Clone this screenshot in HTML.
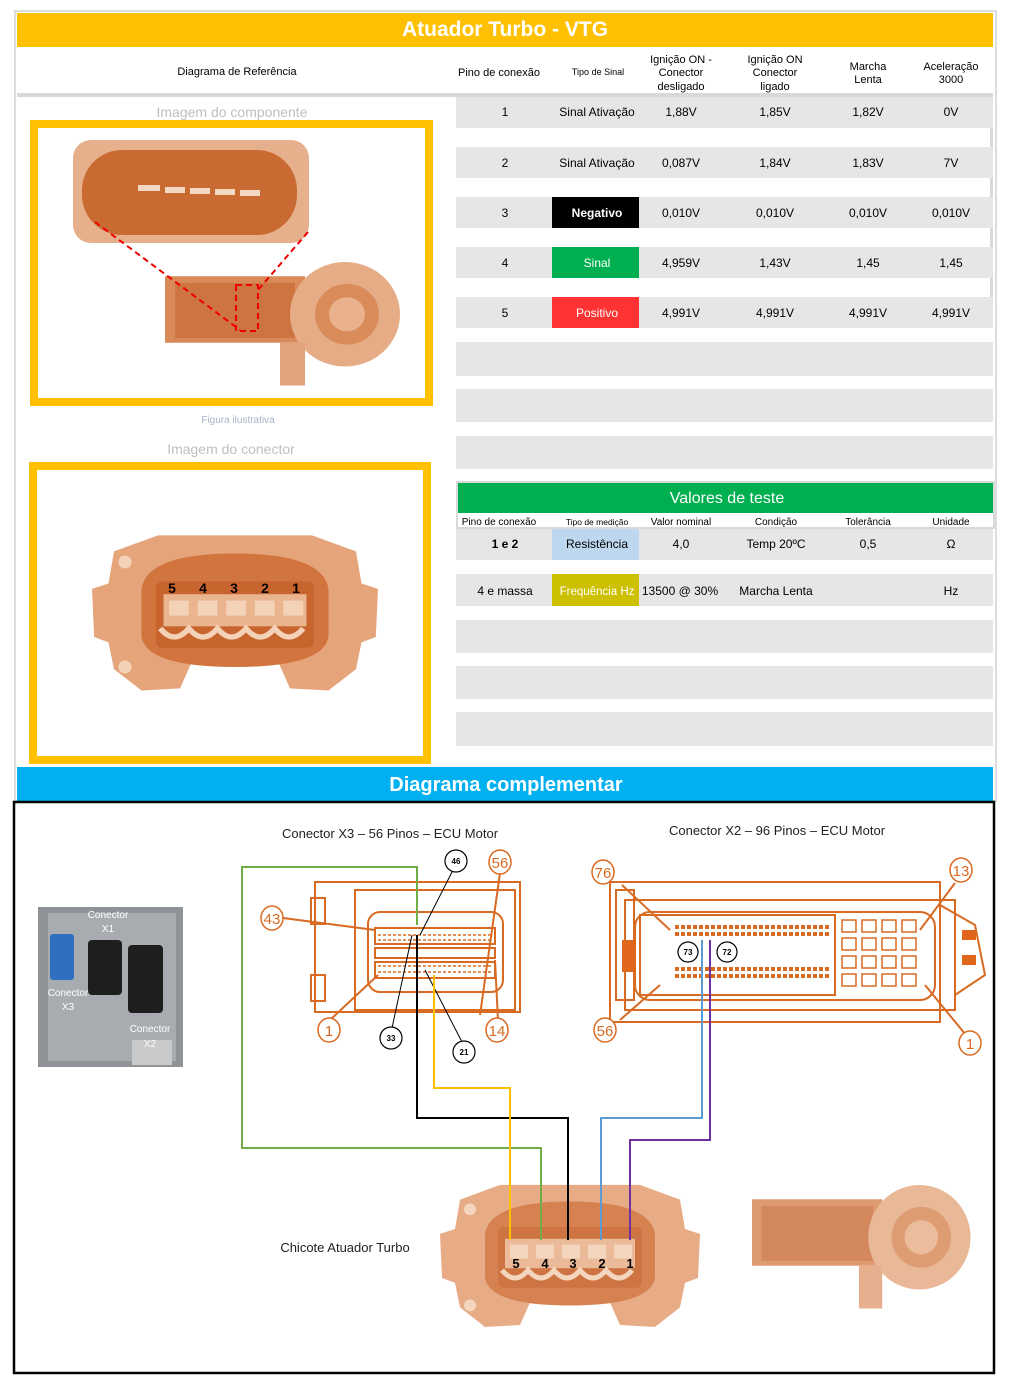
<!DOCTYPE html>
<html><head><meta charset="utf-8"><style>
html,body{margin:0;padding:0;background:#fff;}
svg{display:block;font-family:"Liberation Sans",sans-serif;}
</style></head><body>
<svg width="1009" height="1385" viewBox="0 0 1009 1385" xmlns="http://www.w3.org/2000/svg">
<defs>
<g id="conn">
 <path d="M20 20 L60 5 L200 5 L240 20 L245 50 L260 55 L258 100 L245 105 L240 130 L215 150 L180 148 L170 125 L90 125 L80 148 L45 150 L20 130 L15 105 L2 100 L0 55 L15 50 Z" fill="#E5A47A"/>
 <path d="M45 55 Q50 22 130 22 Q210 22 215 55 L215 100 Q210 128 130 128 Q50 128 45 100 Z" fill="#D2743E"/>
 <rect x="58" y="48" width="144" height="62" rx="6" fill="#C8652E"/>
 <rect x="65" y="60" width="130" height="30" fill="#E9B48E"/>
 <g fill="#F3D2B8"><rect x="70" y="66" width="18" height="14"/><rect x="96" y="66" width="18" height="14"/><rect x="122" y="66" width="18" height="14"/><rect x="148" y="66" width="18" height="14"/><rect x="174" y="66" width="18" height="14"/></g>
 <path d="M62 92 Q75 108 88 92 Q101 108 114 92 Q127 108 140 92 Q153 108 166 92 Q179 108 192 92" stroke="#F3D2B8" stroke-width="5" fill="none"/>
 <circle cx="30" cy="30" r="6" fill="#F3D2B8"/><circle cx="30" cy="128" r="6" fill="#F3D2B8"/>
</g>
<g id="turbo">
 <rect x="0" y="15" width="140" height="70" fill="#D98A59"/>
 <rect x="10" y="22" width="120" height="58" fill="#CD7441"/>
 <circle cx="180" cy="55" r="55" fill="#E6AC86"/>
 <circle cx="182" cy="55" r="32" fill="#D98B5A"/>
 <circle cx="182" cy="55" r="18" fill="#E9B28D"/>
 <rect x="115" y="85" width="25" height="45" fill="#E2A37C"/>
</g>
</defs>

<rect x="15" y="11" width="981" height="790" fill="#fff" stroke="#ddd" stroke-width="2"/>
<rect x="17" y="13" width="976" height="34" fill="#FFC000"/>
<text x="505" y="36" text-anchor="middle" font-size="21" font-weight="bold" fill="#fff">Atuador Turbo - VTG</text>
<rect x="17" y="93" width="976" height="4" fill="#d9d9d9"/>
<g font-size="11" fill="#000" text-anchor="middle">
 <text x="237" y="75">Diagrama de Referência</text>
 <text x="499" y="76">Pino de conexão</text>
 <text x="598" y="75" font-size="9">Tipo de Sinal</text>
 <text x="681" y="63">Ignição ON -</text><text x="681" y="76">Conector</text><text x="681" y="90">desligado</text>
 <text x="775" y="63">Ignição ON</text><text x="775" y="76">Conector</text><text x="775" y="90">ligado</text>
 <text x="868" y="70">Marcha</text><text x="868" y="83">Lenta</text>
 <text x="951" y="70">Aceleração</text><text x="951" y="83">3000</text>
</g>

<text x="232" y="117" text-anchor="middle" font-size="14" fill="#bfbfbf">Imagem do componente</text>
<rect x="34" y="124" width="395" height="278" fill="#fff" stroke="#FFC000" stroke-width="8"/>
<rect x="73" y="140" width="236" height="103" rx="18" fill="#E7B08C"/>
<rect x="82" y="150" width="215" height="85" rx="40" fill="#C96A33"/>
<g fill="#F3D8C4"><rect x="138" y="185" width="22" height="6"/><rect x="165" y="187" width="20" height="6"/><rect x="190" y="188" width="20" height="6"/><rect x="215" y="189" width="20" height="6"/><rect x="240" y="190" width="20" height="6"/></g>
<g transform="translate(165,262) scale(1.0,0.95)"><use href="#turbo"/></g>
<rect x="236" y="285" width="22" height="46" fill="none" stroke="#e00" stroke-width="2" stroke-dasharray="6,4"/>
<line x1="95" y1="222" x2="240" y2="330" stroke="#e00" stroke-width="2" stroke-dasharray="6,4"/>
<line x1="308" y1="232" x2="258" y2="290" stroke="#e00" stroke-width="2" stroke-dasharray="6,4"/>
<text x="238" y="423" text-anchor="middle" font-size="10" fill="#a6b4c8">Figura ilustrativa</text>
<text x="231" y="454" text-anchor="middle" font-size="14" fill="#bfbfbf">Imagem do conector</text>
<rect x="33" y="466" width="394" height="294" fill="#fff" stroke="#FFC000" stroke-width="8"/>
<g transform="translate(92,530) scale(1.1,1.07)"><use href="#conn"/></g>
<g font-size="14" font-weight="bold" fill="#000" text-anchor="middle">
 <text x="172" y="593">5</text><text x="203" y="593">4</text><text x="234" y="593">3</text><text x="265" y="593">2</text><text x="296" y="593">1</text>
</g>

<g fill="#e7e6e6">
 <rect x="456" y="97" width="537" height="31"/>
 <rect x="456" y="147" width="537" height="31"/>
 <rect x="456" y="197" width="537" height="31"/>
 <rect x="456" y="247" width="537" height="31"/>
 <rect x="456" y="297" width="537" height="31"/>
 <rect x="456" y="342" width="537" height="34"/>
 <rect x="456" y="389" width="537" height="33"/>
 <rect x="456" y="436" width="537" height="33"/>
</g>
<g fill="#d9d9d9"><rect x="990" y="128" width="3" height="19"/><rect x="990" y="178" width="3" height="19"/><rect x="990" y="228" width="3" height="19"/><rect x="990" y="278" width="3" height="19"/></g>
<rect x="552" y="197" width="87" height="31" fill="#000"/>
<rect x="552" y="247" width="87" height="31" fill="#00B050"/>
<rect x="552" y="297" width="87" height="31" fill="#FF3333"/>
<g font-size="12" fill="#000" text-anchor="middle">
 <text x="505" y="116">1</text><text x="597" y="116">Sinal Ativação</text><text x="681" y="116">1,88V</text><text x="775" y="116">1,85V</text><text x="868" y="116">1,82V</text><text x="951" y="116">0V</text>
 <text x="505" y="167">2</text><text x="597" y="167">Sinal Ativação</text><text x="681" y="167">0,087V</text><text x="775" y="167">1,84V</text><text x="868" y="167">1,83V</text><text x="951" y="167">7V</text>
 <text x="505" y="217">3</text><text x="597" y="217" fill="#fff" font-weight="bold">Negativo</text><text x="681" y="217">0,010V</text><text x="775" y="217">0,010V</text><text x="868" y="217">0,010V</text><text x="951" y="217">0,010V</text>
 <text x="505" y="267">4</text><text x="597" y="267" fill="#fff">Sinal</text><text x="681" y="267">4,959V</text><text x="775" y="267">1,43V</text><text x="868" y="267">1,45</text><text x="951" y="267">1,45</text>
 <text x="505" y="317">5</text><text x="597" y="317" fill="#fff">Positivo</text><text x="681" y="317">4,991V</text><text x="775" y="317">4,991V</text><text x="868" y="317">4,991V</text><text x="951" y="317">4,991V</text>
</g>

<rect x="456" y="481" width="539" height="48" fill="#d9d9d9"/>
<rect x="458" y="483" width="535" height="30" fill="#00B050"/>
<rect x="458" y="513" width="535" height="14" fill="#fff"/>
<text x="727" y="503" text-anchor="middle" font-size="16" fill="#fff">Valores de teste</text>
<g font-size="10" fill="#000" text-anchor="middle">
 <text x="499" y="525">Pino de conexão</text><text x="597" y="525" font-size="8.5">Tipo de medição</text><text x="681" y="525">Valor nominal</text><text x="776" y="525">Condição</text><text x="868" y="525">Tolerância</text><text x="951" y="525">Unidade</text>
</g>
<g fill="#e7e6e6">
 <rect x="456" y="529" width="537" height="31"/>
 <rect x="456" y="574" width="537" height="32"/>
 <rect x="456" y="620" width="537" height="33"/>
 <rect x="456" y="666" width="537" height="33"/>
 <rect x="456" y="712" width="537" height="34"/>
</g>
<rect x="552" y="529" width="87" height="31" fill="#BDD7EE"/>
<rect x="552" y="574" width="87" height="32" fill="#CCC000"/>
<g font-size="12" fill="#000" text-anchor="middle">
 <text x="505" y="548" font-weight="bold">1 e 2</text><text x="597" y="548">Resistência</text><text x="681" y="548">4,0</text><text x="776" y="548">Temp 20ºC</text><text x="868" y="548">0,5</text><text x="951" y="548">Ω</text>
 <text x="505" y="595">4 e massa</text><text x="597" y="595" fill="#fff" font-size="11.5">Frequência Hz</text><text x="680" y="595">13500 @ 30%</text><text x="776" y="595">Marcha Lenta</text><text x="951" y="595">Hz</text>
</g>

<rect x="17" y="767" width="976" height="34" fill="#00B0F0"/>
<text x="506" y="791" text-anchor="middle" font-size="20" font-weight="bold" fill="#fff">Diagrama complementar</text>

<rect x="14" y="802" width="980" height="571" fill="#fff" stroke="#000" stroke-width="2.5"/>

<rect x="38" y="907" width="145" height="160" fill="#8f9398"/>
<rect x="48" y="913" width="128" height="148" fill="#a8acb0"/>
<rect x="50" y="934" width="24" height="46" rx="3" fill="#2f6fc0"/>
<rect x="88" y="940" width="34" height="55" rx="4" fill="#1e1e1e"/>
<rect x="128" y="945" width="35" height="68" rx="4" fill="#1e1e1e"/>
<rect x="132" y="1040" width="40" height="25" fill="#c8c9cb"/>
<g font-size="10" fill="#fff" text-anchor="middle">
 <text x="108" y="918">Conector</text><text x="108" y="932">X1</text>
 <text x="68" y="996">Conector</text><text x="68" y="1010">X3</text>
 <text x="150" y="1032">Conector</text><text x="150" y="1047">X2</text>
</g>

<text x="390" y="838" text-anchor="middle" font-size="13" fill="#222">Conector X3 – 56 Pinos – ECU Motor</text>
<text x="777" y="835" text-anchor="middle" font-size="13" fill="#222">Conector X2 – 96 Pinos – ECU Motor</text>

<g stroke="#D86A22" stroke-width="2" fill="none">
 <rect x="315" y="882" width="205" height="130"/>
 <rect x="355" y="890" width="160" height="120"/>
 <rect x="368" y="912" width="135" height="80" rx="12"/>
 <rect x="375" y="928" width="120" height="16"/>
 <rect x="375" y="948" width="120" height="10"/>
 <rect x="375" y="962" width="120" height="16"/>
 <rect x="311" y="898" width="14" height="26"/>
 <rect x="311" y="975" width="14" height="26"/>
 <line x1="283" y1="918" x2="375" y2="930"/>
 <line x1="330" y1="1020" x2="378" y2="975"/>
 <line x1="500" y1="873" x2="480" y2="1015"/>
 <line x1="498" y1="1020" x2="495" y2="960"/>
</g>
<g stroke="#D86A22" stroke-width="1.5" fill="none">
 <path d="M378 935 h115 M378 940 h115 M378 966 h115 M378 972 h115" stroke-dasharray="3,2"/>
</g>
<g stroke="#D86A22" stroke-width="1.5" fill="#fff">
 <ellipse cx="272" cy="918" rx="11" ry="12"/><ellipse cx="500" cy="862" rx="11" ry="12"/><ellipse cx="329" cy="1030" rx="11" ry="12"/><ellipse cx="497" cy="1030" rx="11" ry="12"/>
</g>
<g font-size="15" fill="#D86A22" text-anchor="middle"><text x="272" y="924">43</text><text x="500" y="868">56</text><text x="329" y="1036">1</text><text x="497" y="1036">14</text></g>
<g stroke="#000" stroke-width="1" fill="none">
 <line x1="452" y1="872" x2="420" y2="935"/><line x1="392" y1="1028" x2="412" y2="935"/><line x1="462" y1="1042" x2="425" y2="970"/>
</g>
<g stroke="#000" stroke-width="1.2" fill="#fff"><circle cx="456" cy="861" r="11"/><circle cx="391" cy="1038" r="11"/><circle cx="464" cy="1052" r="11"/></g>
<g font-size="8" fill="#000" text-anchor="middle" font-weight="bold"><text x="456" y="864">46</text><text x="391" y="1041">33</text><text x="464" y="1055">21</text></g>

<g stroke="#D86A22" stroke-width="2" fill="none">
 <rect x="610" y="882" width="330" height="140"/>
 <rect x="625" y="900" width="330" height="110"/>
 <rect x="635" y="912" width="300" height="88" rx="15"/>
 <rect x="640" y="915" width="195" height="80"/>
 <path d="M940 905 L975 925 L985 975 L955 995"/>
 <rect x="616" y="890" width="18" height="110"/>
 <line x1="622" y1="885" x2="670" y2="930"/><line x1="955" y1="883" x2="920" y2="930"/>
 <line x1="620" y1="1020" x2="660" y2="985"/><line x1="970" y1="1040" x2="925" y2="985"/>
</g>
<rect x="622" y="940" width="14" height="32" fill="#E0661B"/>
<rect x="962" y="930" width="14" height="10" fill="#E0661B"/><rect x="962" y="955" width="14" height="10" fill="#E0661B"/>
<g stroke="#D86A22" stroke-width="1.5" fill="none">
 <path d="M675 927 h155 M675 934 h155 M675 969 h155 M675 976 h155" stroke-dasharray="4,2" stroke-width="4"/>
 <rect x="842" y="920" width="14" height="12"/><rect x="862" y="920" width="14" height="12"/><rect x="882" y="920" width="14" height="12"/><rect x="902" y="920" width="14" height="12"/>
 <rect x="842" y="938" width="14" height="12"/><rect x="862" y="938" width="14" height="12"/><rect x="882" y="938" width="14" height="12"/><rect x="902" y="938" width="14" height="12"/>
 <rect x="842" y="956" width="14" height="12"/><rect x="862" y="956" width="14" height="12"/><rect x="882" y="956" width="14" height="12"/><rect x="902" y="956" width="14" height="12"/>
 <rect x="842" y="974" width="14" height="12"/><rect x="862" y="974" width="14" height="12"/><rect x="882" y="974" width="14" height="12"/><rect x="902" y="974" width="14" height="12"/>
</g>
<g stroke="#D86A22" stroke-width="1.5" fill="#fff">
 <ellipse cx="603" cy="872" rx="11" ry="12"/><ellipse cx="961" cy="870" rx="11" ry="12"/><ellipse cx="605" cy="1030" rx="11" ry="12"/><ellipse cx="970" cy="1043" rx="11" ry="12"/>
</g>
<g font-size="15" fill="#D86A22" text-anchor="middle"><text x="603" y="878">76</text><text x="961" y="876">13</text><text x="605" y="1036">56</text><text x="970" y="1049">1</text></g>
<g stroke="#000" stroke-width="1.2" fill="#fff"><circle cx="688" cy="952" r="10"/><circle cx="727" cy="952" r="10"/></g>
<g font-size="8" fill="#000" text-anchor="middle" font-weight="bold"><text x="688" y="955">73</text><text x="727" y="955">72</text></g>

<g transform="translate(440,1180) scale(1.0,0.98)" opacity="0.9"><use href="#conn"/></g>
<g transform="translate(752,1185) scale(0.93,0.95)" opacity="0.85"><use href="#turbo"/></g>
<text x="345" y="1252" text-anchor="middle" font-size="13" fill="#222">Chicote Atuador Turbo</text>

<g fill="none" stroke-width="2">
 <polyline points="417,925 417,867 242,867 242,1148 541,1148 541,1240" stroke="#70AD47"/>
 <polyline points="417,935 417,1118 568,1118 568,1240" stroke="#000"/>
 <polyline points="434,975 434,1088 510,1088 510,1240" stroke="#FFC000"/>
 <polyline points="702,940 702,1118 601,1118 601,1240" stroke="#5B9BD5"/>
 <polyline points="710,940 710,1140 630,1140 630,1240" stroke="#7030A0"/>
</g>
<g font-size="13" font-weight="bold" fill="#000" text-anchor="middle">
 <text x="516" y="1268">5</text><text x="545" y="1268">4</text><text x="573" y="1268">3</text><text x="602" y="1268">2</text><text x="630" y="1268">1</text>
</g>
</svg>
</body></html>
